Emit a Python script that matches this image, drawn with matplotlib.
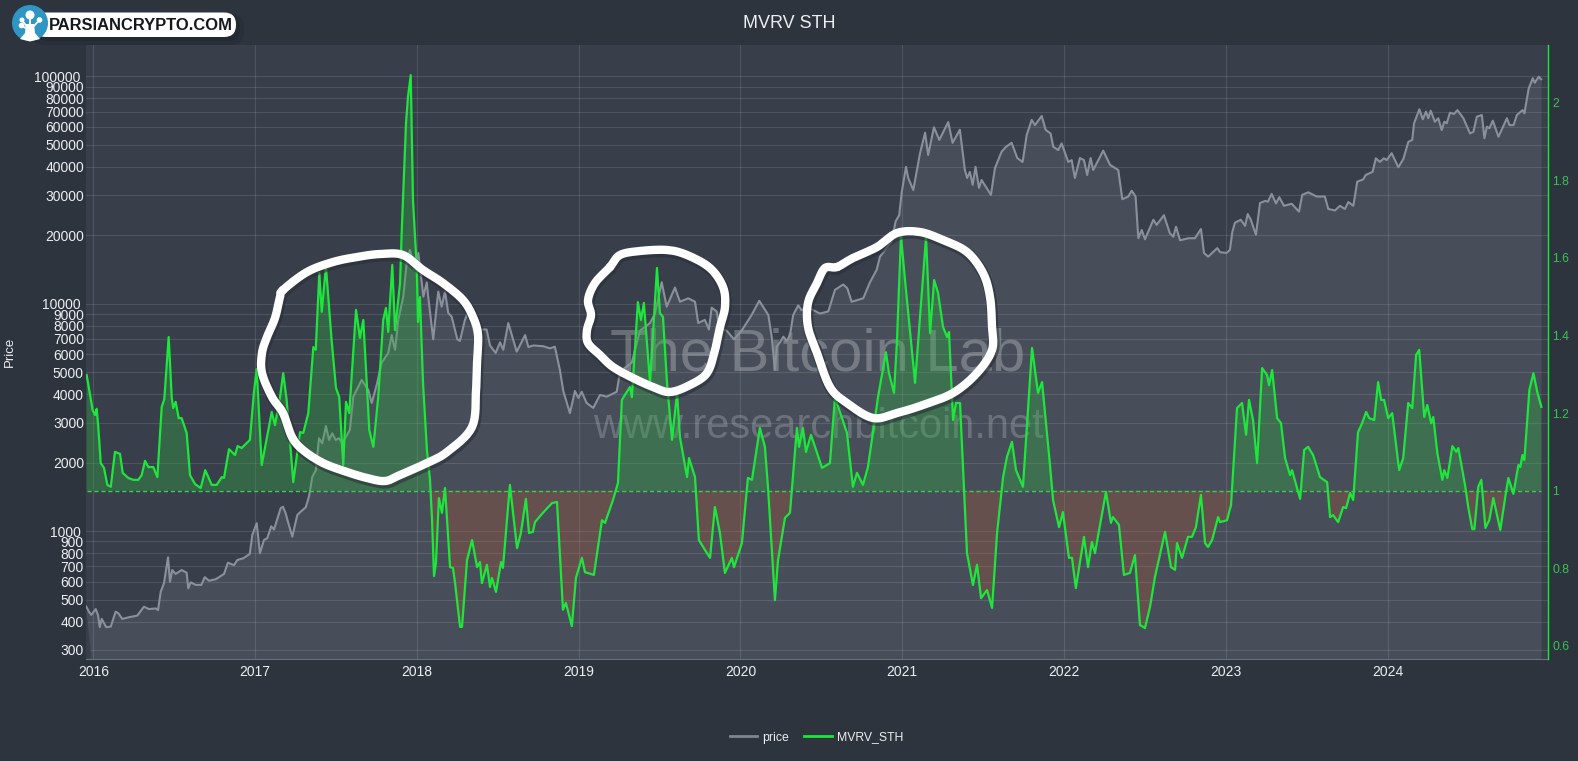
import numpy as np
import matplotlib
matplotlib.use("Agg")
import matplotlib.pyplot as plt
from matplotlib.lines import Line2D
from matplotlib.patches import Circle, FancyBboxPatch, Polygon

plt.rcParams['font.family'] = ['Liberation Sans', 'DejaVu Sans']

# decimal years and values
price_years = [
    2015.957, 2015.973, 2015.988, 2016.015, 2016.029, 2016.040, 2016.052, 2016.080, 2016.108, 2016.138, 2016.155, 2016.179,
    2016.221, 2016.272, 2016.313, 2016.344, 2016.386, 2016.400, 2016.417, 2016.437, 2016.462, 2016.474, 2016.488, 2016.509,
    2016.546, 2016.577, 2016.587, 2016.602, 2016.633, 2016.668, 2016.689, 2016.715, 2016.757, 2016.808, 2016.832, 2016.870,
    2016.890, 2016.927, 2016.967, 2016.983, 2017.010, 2017.030, 2017.055, 2017.075, 2017.100, 2017.117, 2017.158, 2017.172,
    2017.189, 2017.203, 2017.230, 2017.261, 2017.282, 2017.313, 2017.333, 2017.354, 2017.376, 2017.395, 2017.415, 2017.438,
    2017.457, 2017.477, 2017.498, 2017.519, 2017.539, 2017.586, 2017.607, 2017.659, 2017.700, 2017.721, 2017.752, 2017.782,
    2017.823, 2017.844, 2017.865, 2017.885, 2017.916, 2017.937, 2017.957, 2017.988, 2018.009, 2018.040, 2018.061, 2018.070,
    2018.101, 2018.132, 2018.153, 2018.174, 2018.194, 2018.215, 2018.250, 2018.266, 2018.297, 2018.318, 2018.370, 2018.400,
    2018.431, 2018.452, 2018.487, 2018.514, 2018.534, 2018.565, 2018.617, 2018.669, 2018.689, 2018.720, 2018.781, 2018.822,
    2018.853, 2018.884, 2018.905, 2018.946, 2018.977, 2018.998, 2019.019, 2019.049, 2019.090, 2019.132, 2019.173, 2019.235,
    2019.255, 2019.286, 2019.328, 2019.379, 2019.441, 2019.472, 2019.513, 2019.544, 2019.595, 2019.626, 2019.677, 2019.719,
    2019.739, 2019.780, 2019.805, 2019.822, 2019.853, 2019.869, 2019.915, 2019.960, 2020.007, 2020.069, 2020.116, 2020.172,
    2020.193, 2020.213, 2020.224, 2020.244, 2020.265, 2020.286, 2020.306, 2020.326, 2020.357, 2020.378, 2020.409, 2020.491,
    2020.543, 2020.584, 2020.635, 2020.660, 2020.687, 2020.759, 2020.800, 2020.842, 2020.862, 2020.934, 2020.959, 2020.981,
    2020.996, 2021.023, 2021.037, 2021.068, 2021.110, 2021.141, 2021.160, 2021.196, 2021.229, 2021.284, 2021.311, 2021.356,
    2021.387, 2021.401, 2021.418, 2021.435, 2021.453, 2021.474, 2021.490, 2021.548, 2021.573, 2021.614, 2021.641, 2021.676,
    2021.711, 2021.744, 2021.769, 2021.800, 2021.820, 2021.862, 2021.886, 2021.917, 2021.933, 2021.964, 2021.985, 2022.026,
    2022.047, 2022.067, 2022.098, 2022.123, 2022.143, 2022.164, 2022.180, 2022.242, 2022.284, 2022.335, 2022.360, 2022.397,
    2022.418, 2022.442, 2022.459, 2022.480, 2022.500, 2022.552, 2022.572, 2022.617, 2022.654, 2022.675, 2022.692, 2022.717,
    2022.768, 2022.809, 2022.846, 2022.865, 2022.891, 2022.947, 2022.964, 2023.005, 2023.025, 2023.040, 2023.056, 2023.092,
    2023.119, 2023.135, 2023.154, 2023.186, 2023.211, 2023.242, 2023.260, 2023.283, 2023.310, 2023.330, 2023.359, 2023.407,
    2023.452, 2023.472, 2023.509, 2023.561, 2023.612, 2023.633, 2023.674, 2023.705, 2023.736, 2023.757, 2023.788, 2023.812,
    2023.849, 2023.864, 2023.907, 2023.927, 2023.952, 2023.977, 2023.994, 2024.025, 2024.066, 2024.097, 2024.128, 2024.152,
    2024.163, 2024.196, 2024.217, 2024.237, 2024.251, 2024.266, 2024.292, 2024.313, 2024.334, 2024.350, 2024.365, 2024.385,
    2024.410, 2024.431, 2024.468, 2024.509, 2024.530, 2024.551, 2024.582, 2024.598, 2024.613, 2024.629, 2024.650, 2024.685,
    2024.737, 2024.753, 2024.778, 2024.799, 2024.834, 2024.845, 2024.872, 2024.897, 2024.909, 2024.934, 2024.948,
]
price = [
    465, 442, 428, 454, 428, 378, 411, 378, 380, 442, 435, 411,
    418, 425, 465, 454, 457, 449, 541, 590, 767, 599, 674, 648,
    674, 656, 560, 595, 580, 580, 627, 605, 614, 648, 726, 708,
    746, 759, 793, 961, 1083, 799, 914, 930, 1050, 1016, 1260, 1280,
    1197, 1100, 945, 1177, 1217, 1272, 1417, 1735, 1857, 2560, 2430, 2900,
    2516, 2692, 2516, 2560, 2430, 2790, 3900, 4620, 4170, 3660, 4400, 5500,
    6070, 7280, 6270, 8490, 10740, 15100, 17230, 14070, 16700, 10740, 12400, 10740,
    6970, 11300, 9700, 11300, 9100, 8770, 6970, 6860, 8490, 9250, 6760, 7700,
    7700, 6550, 6070, 6760, 6270, 8220, 6150, 7280, 6450, 6550, 6500, 6360,
    6470, 5110, 4130, 3300, 4130, 3850, 4100, 3660, 3480, 3970, 3900, 4100,
    4970, 5220, 5500, 7610, 8220, 9050, 12430, 9700, 11780, 10200, 10560, 10200,
    8220, 8490, 7700, 9600, 9250, 7880, 7600, 6970, 7610, 8920, 10300, 8920,
    7160, 5110, 6470, 6760, 7160, 6860, 7280, 8920, 9830, 9350, 9700, 9050,
    9250, 11500, 12150, 11700, 10200, 10560, 12400, 14100, 16090, 18800, 23000, 24500,
    30700, 40000, 35700, 31600, 45950, 56500, 45100, 59700, 52500, 62900, 51000, 58200,
    38700, 35700, 38000, 33300, 40000, 32300, 35000, 30100, 39500, 46600, 48950, 51000,
    43700, 42000, 55200, 64300, 61000, 66900, 58200, 56000, 49000, 47400, 50700, 42000,
    42800, 35700, 43700, 42800, 36800, 43700, 38700, 47100, 40800, 38700, 28800, 29600,
    31400, 29600, 19400, 21100, 19200, 23400, 22200, 24500, 20400, 19700, 21800, 19000,
    19400, 19400, 21300, 16700, 16100, 17560, 16840, 16720, 17230, 20700, 22700, 23400,
    22000, 24800, 23400, 20100, 27700, 28300, 28100, 30400, 27600, 29400, 26950, 27500,
    25400, 30100, 30900, 29600, 29600, 26100, 25700, 26950, 26100, 28000, 26950, 34400,
    35200, 36800, 38000, 43600, 42000, 43600, 42800, 45900, 39800, 43300, 51500, 52500,
    62100, 71600, 64700, 69900, 65400, 70600, 63100, 65400, 58000, 63100, 62100, 69200,
    68300, 71000, 65400, 56100, 57000, 66400, 67600, 53400, 60000, 59100, 63800, 54200,
    65400, 61000, 61000, 67600, 71000, 68700, 88600, 98000, 93700, 99600, 97000,
]

mvrv_years = [
    2015.959, 2015.975, 2015.996, 2016.011, 2016.021, 2016.031, 2016.046, 2016.066, 2016.087, 2016.108, 2016.134, 2016.165,
    2016.182, 2016.216, 2016.247, 2016.278, 2016.299, 2016.320, 2016.340, 2016.371, 2016.396, 2016.423, 2016.439, 2016.466,
    2016.485, 2016.494, 2016.509, 2016.528, 2016.546, 2016.577, 2016.598, 2016.629, 2016.664, 2016.692, 2016.732, 2016.763,
    2016.794, 2016.808, 2016.839, 2016.876, 2016.892, 2016.917, 2016.968, 2016.993, 2017.010, 2017.041, 2017.103, 2017.123,
    2017.154, 2017.174, 2017.195, 2017.236, 2017.278, 2017.298, 2017.329, 2017.360, 2017.375, 2017.397, 2017.412, 2017.438,
    2017.473, 2017.500, 2017.520, 2017.545, 2017.562, 2017.582, 2017.624, 2017.648, 2017.669, 2017.706, 2017.731, 2017.761,
    2017.792, 2017.809, 2017.823, 2017.848, 2017.865, 2017.896, 2017.906, 2017.933, 2017.945, 2017.962, 2017.976, 2017.999,
    2018.007, 2018.019, 2018.038, 2018.062, 2018.081, 2018.093, 2018.106, 2018.118, 2018.136, 2018.155, 2018.174, 2018.205,
    2018.223, 2018.236, 2018.267, 2018.279, 2018.310, 2018.341, 2018.372, 2018.390, 2018.402, 2018.433, 2018.452, 2018.464,
    2018.489, 2018.520, 2018.532, 2018.575, 2018.619, 2018.643, 2018.674, 2018.693, 2018.717, 2018.730, 2018.779, 2018.835,
    2018.866, 2018.903, 2018.921, 2018.958, 2018.983, 2019.020, 2019.039, 2019.094, 2019.144, 2019.163, 2019.212, 2019.243,
    2019.267, 2019.298, 2019.317, 2019.329, 2019.366, 2019.385, 2019.403, 2019.441, 2019.484, 2019.502, 2019.521, 2019.546,
    2019.577, 2019.608, 2019.626, 2019.670, 2019.682, 2019.719, 2019.743, 2019.781, 2019.812, 2019.842, 2019.873, 2019.904,
    2019.947, 2019.960, 2020.009, 2020.046, 2020.071, 2020.120, 2020.151, 2020.170, 2020.213, 2020.232, 2020.275, 2020.306,
    2020.349, 2020.362, 2020.386, 2020.405, 2020.436, 2020.504, 2020.553, 2020.584, 2020.658, 2020.695, 2020.720, 2020.757,
    2020.788, 2020.850, 2020.899, 2020.918, 2020.949, 2020.967, 2020.992, 2021.017, 2021.079, 2021.147, 2021.172, 2021.197,
    2021.221, 2021.252, 2021.277, 2021.289, 2021.314, 2021.332, 2021.357, 2021.382, 2021.400, 2021.437, 2021.462, 2021.487,
    2021.524, 2021.555, 2021.586, 2021.623, 2021.647, 2021.678, 2021.703, 2021.746, 2021.802, 2021.839, 2021.864, 2021.913,
    2021.932, 2021.969, 2021.993, 2022.030, 2022.049, 2022.073, 2022.123, 2022.148, 2022.172, 2022.191, 2022.259, 2022.290,
    2022.302, 2022.339, 2022.370, 2022.407, 2022.438, 2022.469, 2022.500, 2022.531, 2022.562, 2022.624, 2022.661, 2022.686,
    2022.698, 2022.729, 2022.766, 2022.791, 2022.815, 2022.846, 2022.871, 2022.890, 2022.915, 2022.952, 2022.964, 2023.007,
    2023.032, 2023.069, 2023.100, 2023.125, 2023.143, 2023.168, 2023.193, 2023.224, 2023.255, 2023.267, 2023.286, 2023.317,
    2023.341, 2023.366, 2023.397, 2023.409, 2023.459, 2023.484, 2023.508, 2023.539, 2023.582, 2023.626, 2023.644, 2023.663,
    2023.694, 2023.725, 2023.743, 2023.768, 2023.787, 2023.817, 2023.842, 2023.867, 2023.886, 2023.917, 2023.941, 2023.960,
    2023.978, 2024.003, 2024.028, 2024.071, 2024.096, 2024.127, 2024.152, 2024.176, 2024.195, 2024.226, 2024.245, 2024.269,
    2024.282, 2024.307, 2024.338, 2024.350, 2024.369, 2024.400, 2024.424, 2024.437, 2024.480, 2024.498, 2024.523, 2024.536,
    2024.560, 2024.579, 2024.604, 2024.628, 2024.653, 2024.696, 2024.727, 2024.746, 2024.777, 2024.808, 2024.820, 2024.833,
    2024.845, 2024.876, 2024.901, 2024.925, 2024.950,
]
mvrv = [
    1.298, 1.260, 1.208, 1.195, 1.211, 1.164, 1.071, 1.059, 1.015, 1.010, 1.100, 1.095,
    1.046, 1.033, 1.028, 1.028, 1.040, 1.077, 1.061, 1.061, 1.035, 1.216, 1.236, 1.396,
    1.239, 1.213, 1.229, 1.187, 1.187, 1.149, 1.040, 1.017, 1.007, 1.053, 1.015, 1.015,
    1.035, 1.033, 1.107, 1.092, 1.115, 1.110, 1.131, 1.254, 1.314, 1.066, 1.203, 1.169,
    1.241, 1.303, 1.234, 1.022, 1.151, 1.149, 1.200, 1.370, 1.363, 1.561, 1.461, 1.577,
    1.388, 1.265, 1.241, 1.066, 1.229, 1.200, 1.466, 1.394, 1.440, 1.156, 1.113, 1.241,
    1.440, 1.471, 1.409, 1.582, 1.414, 1.535, 1.664, 1.948, 2.015, 2.071, 1.749, 1.577,
    1.435, 1.499, 1.278, 1.105, 1.028, 0.932, 0.780, 0.814, 0.981, 0.943, 1.007, 0.803,
    0.801, 0.762, 0.649, 0.649, 0.821, 0.873, 0.803, 0.816, 0.762, 0.809, 0.752, 0.775,
    0.739, 0.816, 0.801, 1.015, 0.852, 0.891, 0.979, 0.891, 0.894, 0.919, 0.943, 0.968,
    0.971, 0.693, 0.711, 0.651, 0.775, 0.827, 0.790, 0.783, 0.924, 0.917, 0.976, 1.020,
    1.234, 1.255, 1.267, 1.241, 1.486, 1.440, 1.484, 1.278, 1.574, 1.458, 1.448, 1.278,
    1.131, 1.252, 1.138, 1.035, 1.084, 1.035, 0.873, 0.847, 0.827, 0.958, 0.891, 0.788,
    0.827, 0.803, 0.865, 1.033, 1.028, 1.162, 1.113, 1.010, 0.718, 0.821, 0.930, 0.943,
    1.162, 1.113, 1.162, 1.100, 1.144, 1.059, 1.071, 1.241, 1.149, 1.010, 1.046, 1.015,
    1.061, 1.241, 1.357, 1.303, 1.252, 1.383, 1.656, 1.543, 1.278, 1.654, 1.406, 1.543,
    1.510, 1.422, 1.396, 1.409, 1.182, 1.226, 1.226, 1.002, 0.839, 0.757, 0.809, 0.723,
    0.744, 0.698, 0.891, 1.035, 1.087, 1.126, 1.053, 1.010, 1.368, 1.252, 1.280, 1.066,
    0.976, 0.906, 0.945, 0.827, 0.827, 0.749, 0.881, 0.803, 0.868, 0.839, 0.997, 0.917,
    0.932, 0.912, 0.783, 0.788, 0.834, 0.654, 0.646, 0.700, 0.778, 0.894, 0.803, 0.796,
    0.865, 0.827, 0.881, 0.881, 0.906, 0.989, 0.865, 0.855, 0.873, 0.932, 0.919, 0.924,
    0.963, 1.213, 1.226, 1.144, 1.234, 1.182, 1.071, 1.316, 1.298, 1.272, 1.311, 1.187,
    1.174, 1.084, 1.040, 1.053, 0.979, 1.105, 1.113, 1.092, 1.035, 1.022, 0.932, 0.937,
    0.919, 0.958, 0.955, 0.994, 0.976, 1.151, 1.174, 1.203, 1.187, 1.182, 1.280, 1.234,
    1.234, 1.187, 1.200, 1.053, 1.084, 1.226, 1.213, 1.350, 1.363, 1.190, 1.221, 1.174,
    1.190, 1.097, 1.028, 1.053, 1.033, 1.115, 1.100, 1.110, 1.010, 0.958, 0.901, 0.901,
    1.010, 1.028, 0.904, 0.924, 0.981, 0.899, 0.984, 1.033, 0.992, 1.066, 1.061, 1.092,
    1.079, 1.260, 1.303, 1.254, 1.216,
]

year_ticks = list(range(2016, 2025))
price_ticks = [300, 400, 500, 600, 700, 800, 900, 1000, 2000, 3000, 4000, 5000, 6000, 7000, 8000, 9000,
               10000, 20000, 30000, 40000, 50000, 60000, 70000, 80000, 90000, 100000]
mvrv_ticks = [0.6, 0.8, 1, 1.2, 1.4, 1.6, 1.8, 2]
mvrv_labels = ['0.6', '0.8', '1', '1.2', '1.4', '1.6', '1.8', '2']

# hand drawn white circles, in image pixels
circle_left = [(283, 290), (307, 272), (333, 262), (357, 257), (380, 254), (403, 255), (423, 270), (443, 283), (463, 300),
               (473, 317), (478, 335), (477, 363), (476, 390), (472, 427), (447, 452), (427, 463), (400, 475), (385, 481),
               (367, 478), (347, 472), (323, 463), (303, 450), (292, 437), (283, 413), (272, 397), (262, 373), (262, 353),
               (267, 337), (275, 318), (280, 297)]
circle_mid = [(610, 267), (620, 255), (640, 251), (667, 250), (687, 255), (710, 268), (723, 287), (725, 307), (720, 327),
              (715, 350), (707, 373), (690, 385), (670, 392), (653, 387), (633, 378), (613, 367), (600, 355), (588, 343),
              (587, 330), (591, 315), (588, 300), (595, 283)]
circle_right = [(837, 267), (825, 268), (817, 283), (808, 303), (808, 327), (817, 353), (830, 387), (847, 403), (873, 418),
                (897, 413), (923, 405), (953, 393), (977, 373), (992, 350), (992, 327), (990, 297), (983, 273), (967, 252),
                (943, 240), (920, 232), (897, 233), (877, 247), (853, 258)]


def smooth_closed(points, steps=8):
    # closed catmull-rom through the stroke points
    p = np.array(points, dtype=float)
    out = []
    n = len(p)
    for i in range(n):
        p0, p1, p2, p3 = p[i - 1], p[i], p[(i + 1) % n], p[(i + 2) % n]
        for t in np.linspace(0, 1, steps, endpoint=False):
            out.append(0.5 * (2 * p1 + (p2 - p0) * t + (2 * p0 - 5 * p1 + 4 * p2 - p3) * t ** 2
                              + (3 * p1 - p0 - 3 * p2 + p3) * t ** 3))
    out.append(out[0])
    return np.array(out)


W, H = 1578, 761
paper = '#2d343e'
plot_bg = '#393f4a'
under_price = '#474e5a'
green = '#1ee63c'
tick_green = '#35c452'
text_col = '#eceff2'

fig = plt.figure(figsize=(W / 100, H / 100), dpi=100, facecolor=paper)
ax = fig.add_axes([86 / W, 1 - 659.3 / H, (1548 - 86) / W, (659.3 - 45) / H], facecolor=plot_bg)

ax.set_yscale('log')
ax.set_xlim(2015.955, 2024.991)
ax.set_ylim(273, 137300)
ax.fill_between(price_years, price, 273, color=under_price, lw=0)
ax.plot(price_years, price, color='#8b919b', lw=1.5, solid_joinstyle='round')

ax.set_xticks(year_ticks)
ax.set_xticklabels([str(y) for y in year_ticks], color=text_col, fontsize=10)
ax.set_yticks(price_ticks)
ax.set_yticklabels([str(p) for p in price_ticks], color=text_col, fontsize=10)
ax.yaxis.set_minor_locator(matplotlib.ticker.NullLocator())
ax.grid(True, color='white', alpha=0.11, lw=0.8)
ax.tick_params(axis='both', length=0)
ax.tick_params(axis='x', pad=4)
ax.tick_params(axis='y', pad=1.5)
for t, p in zip(ax.yaxis.get_major_ticks(), price_ticks):
    if p in (1000, 10000, 100000):
        t.set_pad(3.7)
for side in ['top', 'left', 'right']:
    ax.spines[side].set_visible(False)
ax.spines['bottom'].set_color('#6a707a')
ax.set_ylabel('Price', color=text_col, fontsize=9.5, labelpad=0)
ax.yaxis.set_label_coords((16 - 86) / (1548 - 86), 0.5)

ax.text(817.5 / W, 1 - 355 / H, 'The Bitcoin Lab', transform=fig.transFigure, ha='center', va='center',
        fontsize=43, color='white', alpha=0.25, zorder=1.2)
ax.text(818 / W, 1 - 427 / H, 'www.researchbitcoin.net', transform=fig.transFigure, ha='center', va='center',
        fontsize=30, color='white', alpha=0.2, zorder=1.2)

ax2 = ax.twinx()
ax2.patch.set_visible(False)
ax2.set_ylim(0.5655, 2.1487)
x_m = np.array(mvrv_years)
y_m = np.array(mvrv)
ax2.fill_between(x_m, y_m, 1, where=y_m >= 1, interpolate=True, color='#30af43', alpha=0.35, lw=0)
ax2.fill_between(x_m, y_m, 1, where=y_m <= 1, interpolate=True, color='#c0562e', alpha=0.25, lw=0)
ax2.plot([x_m[0], x_m[-1]], [1, 1], color='#35d24d', lw=1, ls=(0, (3, 2)))
ax2.plot(x_m, y_m, color=green, lw=1.6, solid_joinstyle='round')
ax2.set_yticks(mvrv_ticks)
ax2.set_yticklabels(mvrv_labels, color=tick_green, fontsize=8.7)
ax2.tick_params(axis='y', length=0, pad=3)
for side in ['top', 'left', 'bottom']:
    ax2.spines[side].set_visible(False)
ax2.spines['right'].set_color(green)
ax2.spines['right'].set_linewidth(1)

fig.text(789 / W, 1 - 23 / H, 'MVRV STH', color=text_col, fontsize=13, ha='center', va='center')

handles = [Line2D([], [], color='#7f858f', lw=2), Line2D([], [], color=green, lw=2)]
fig.legend(handles, ['price', 'MVRV_STH'], loc='center', bbox_to_anchor=(816.5 / W, 1 - 737.5 / H), ncol=2,
           frameon=False, fontsize=8.8, labelcolor=text_col, handlelength=2.25, handletextpad=0.45, columnspacing=1.2)

# overlay in image pixels for the pen strokes and the logo
over = fig.add_axes([0, 0, 1, 1], zorder=5)
over.set_xlim(0, W)
over.set_ylim(H, 0)
over.axis('off')

# price area starts with a slanted edge
over.add_patch(Polygon([(86, 607), (91.5, 658.5), (86, 658.5)], fc=plot_bg, ec='none'))

for stroke in [circle_left, circle_mid, circle_right]:
    c = smooth_closed(stroke)
    over.plot(c[:, 0] + 1, c[:, 1] + 2, color='#272c35', alpha=0.55, lw=8, solid_capstyle='round')
    over.plot(c[:, 0], c[:, 1], color='white', lw=6, solid_capstyle='round', solid_joinstyle='round')

# logo
over.add_patch(FancyBboxPatch((30, 14), 214, 31, boxstyle='round,pad=0,rounding_size=14', fc='#20252d', ec='none', alpha=0.3))
over.add_patch(FancyBboxPatch((34, 14), 206, 27, boxstyle='round,pad=0,rounding_size=13', fc='#20252d', ec='none', alpha=0.5))
over.add_patch(FancyBboxPatch((34, 12.5), 202, 24.5, boxstyle='round,pad=0,rounding_size=12', fc='white', ec='none'))
over.text(140.5, 25, 'PARSIANCRYPTO.COM', color='#15181c', fontsize=11.9, fontweight='bold', ha='center', va='center')
over.add_patch(Circle((30, 23), 18, fc='#2f95c2', ec='none'))
over.add_patch(Polygon([(26, 24), (34, 24), (35, 33), (40, 39), (30, 41.5), (20, 39), (25, 33)], fc='white', ec='none'))
for cx, cy, r in [(30, 15, 4.5), (39.5, 20, 2.8), (22, 20, 2.5), (21.5, 25.5, 2.8)]:
    over.add_patch(Circle((cx, cy), r, fc='white', ec='none'))
for a, b in [((30, 15), (30, 26)), ((39.5, 20), (33, 27)), ((22, 20), (27, 27)), ((21.5, 25.5), (27, 29))]:
    over.plot([a[0], b[0]], [a[1], b[1]], color='white', lw=1.3)

fig.savefig('out.png', dpi=100, facecolor=paper)
